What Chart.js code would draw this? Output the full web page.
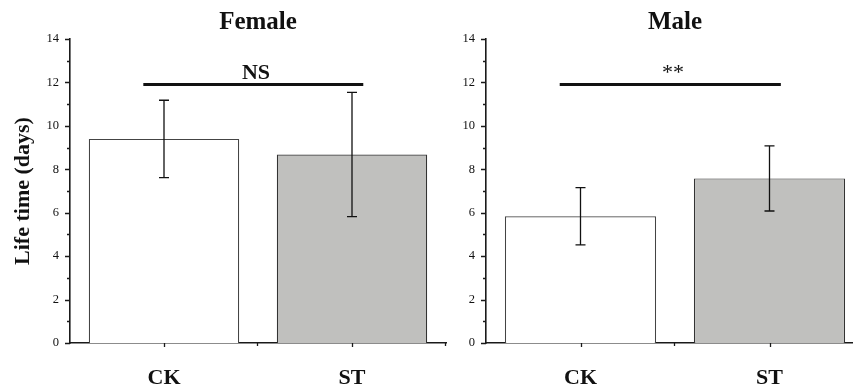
<!DOCTYPE html>
<html>
<head>
<meta charset="utf-8">
<script src="https://cdn.jsdelivr.net/npm/chart.js@4/dist/chart.umd.min.js"></script>
<style>
html,body{margin:0;padding:0;width:853px;height:387px;overflow:hidden;background:#fff;}
canvas{position:absolute;top:0;}
#cF{left:0;}
#cM{left:450px;}
</style>
</head>
<body>
<canvas id="cF" width="450" height="387"></canvas>
<canvas id="cM" width="420" height="387"></canvas>
<script>
// ---- data ----
const categories = ['CK', 'ST'];
const femaleMean = [9.4, 8.68];
const femaleSD   = [1.78, 2.86];
const maleMean   = [5.84, 7.58];
const maleSD     = [1.32, 1.50];
const panelTitles = ['Female', 'Male'];
const sigLabels   = ['NS', '**'];
const sigLevel    = 11.9;
const yMin = 0, yMax = 14, yStep = 2;
const yAxisTitle = 'Life time (days)';

const SERIF = '"Liberation Serif", "Times New Roman", serif';

const decoPlugin = {
  id: 'deco',
  afterDatasetsDraw(chart, args, opts) {
    const ctx = chart.ctx;
    const xs = chart.scales.x, ys = chart.scales.y;
    const meta = chart.getDatasetMeta(0);
    ctx.save();
    ctx.strokeStyle = '#111';
    // error bars
    ctx.lineWidth = 1.3;
    opts.sd.forEach((sd, i) => {
      const x = meta.data[i].x;
      const m = opts.mean[i];
      const yt = ys.getPixelForValue(m + sd);
      const yb = ys.getPixelForValue(m - sd);
      ctx.beginPath();
      ctx.moveTo(x, yt); ctx.lineTo(x, yb);
      ctx.moveTo(x - 5, yt); ctx.lineTo(x + 5, yt);
      ctx.moveTo(x - 5, yb); ctx.lineTo(x + 5, yb);
      ctx.stroke();
    });
    // significance bar
    const ySig = ys.getPixelForValue(sigLevel);
    ctx.lineWidth = 3;
    ctx.beginPath();
    ctx.moveTo(xs.getPixelForValue(-0.11), ySig);
    ctx.lineTo(xs.getPixelForValue(1.06), ySig);
    ctx.stroke();
    ctx.fillStyle = '#111';
    ctx.textAlign = 'center';
    ctx.textBaseline = 'alphabetic';
    ctx.font = (opts.sig === 'NS' ? 'bold ' : '') + '22px ' + SERIF;
    ctx.fillText(opts.sig, xs.getPixelForValue(0.5) - 2, ySig - 6);
    ctx.restore();
  },
  afterDraw(chart) {
    const ctx = chart.ctx;
    const xs = chart.scales.x, ys = chart.scales.y;
    const area = chart.chartArea;
    ctx.save();
    ctx.strokeStyle = '#1a1a1a';
    ctx.lineWidth = 1.3;
    ctx.beginPath();
    for (let v = yMin; v <= yMax; v++) {
      const y = Math.round(ys.getPixelForValue(v)) + 0.5;
      const len = (v % yStep === 0) ? 5 : 3;
      ctx.moveTo(area.left - len, y); ctx.lineTo(area.left, y);
    }
    for (let i = 0; i < categories.length; i++) {
      const xc = Math.round(xs.getPixelForValue(i)) + 0.5;
      ctx.moveTo(xc, area.bottom); ctx.lineTo(xc, area.bottom + 4);
      const xb = Math.round(xs.getPixelForValue(i + 0.5)) - 0.5;
      ctx.moveTo(xb, area.bottom); ctx.lineTo(xb, area.bottom + 3);
    }
    ctx.stroke();
    ctx.restore();
  }
};

function makeChart(id, title, mean, sd, sig, showYTitle, yWidth, padRight) {
  return new Chart(document.getElementById(id), {
    type: 'bar',
    data: {
      labels: categories,
      datasets: [{
        data: mean,
        backgroundColor: ['#ffffff', '#c0c0be'],
        borderColor: ['#444444', '#333333'],
        borderWidth: 1.2,
        categoryPercentage: 1.0,
        barPercentage: 0.8
      }]
    },
    options: {
      responsive: false,
      animation: false,
      layout: { padding: { left: 0, right: padRight, top: 0, bottom: 0 } },
      plugins: {
        legend: { display: false },
        tooltip: { enabled: false },
        title: {
          display: true,
          fullSize: false,
          text: title,
          color: '#111',
          font: { family: SERIF, size: 25, weight: 'bold' },
          padding: { top: 8, bottom: 1 }
        },
        deco: { mean: mean, sd: sd, sig: sig }
      },
      scales: {
        x: {
          grid: { display: false },
          border: { display: true, color: '#1a1a1a', width: 1.6 },
          ticks: {
            color: '#111',
            padding: 14,
            font: { family: SERIF, size: 22, weight: 'bold' }
          },
          afterFit(scale) { scale.height = 44; }
        },
        y: {
          min: yMin, max: yMax,
          grid: { display: false, drawTicks: false },
          border: { display: true, color: '#1a1a1a', width: 1.6 },
          ticks: {
            stepSize: yStep,
            color: '#111',
            padding: 11,
            font: { family: SERIF, size: 12.5 }
          },
          title: {
            display: showYTitle,
            text: yAxisTitle,
            color: '#111',
            font: { family: SERIF, size: 22, weight: 'bold' },
            padding: { top: 10, bottom: 0 }
          },
          afterFit(scale) { scale.width = yWidth; }
        }
      }
    },
    plugins: [decoPlugin]
  });
}

makeChart('cF', panelTitles[0], femaleMean, femaleSD, sigLabels[0], true, 70, 4);
makeChart('cM', panelTitles[1], maleMean, maleSD, sigLabels[1], false, 36, 6);
</script>
</body>
</html>
